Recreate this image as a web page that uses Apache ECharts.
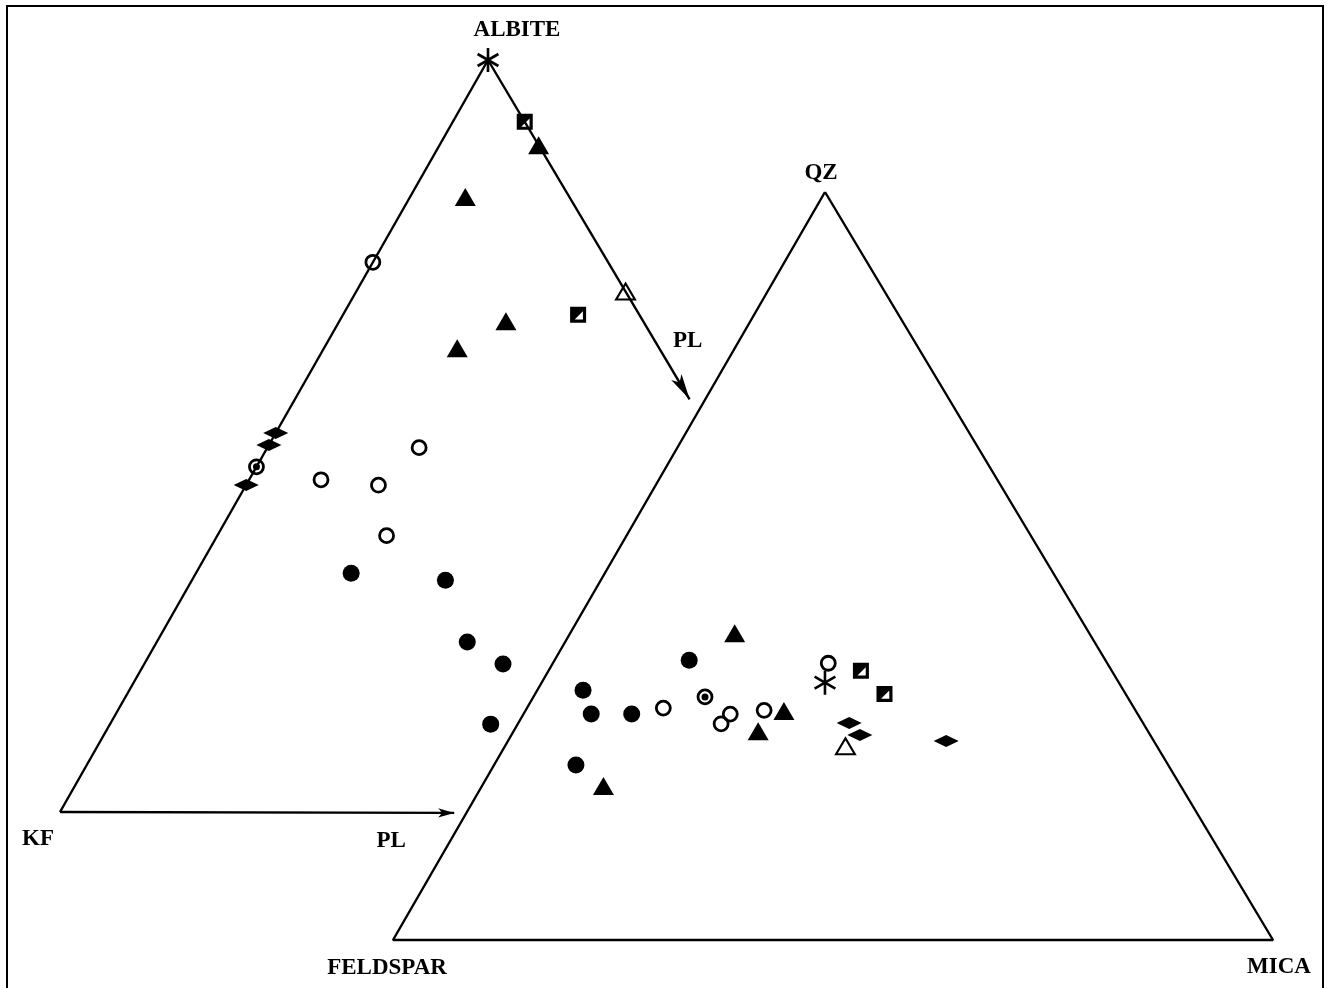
<!DOCTYPE html>
<html>
<head>
<meta charset="utf-8">
<script src="https://cdn.jsdelivr.net/npm/echarts@6/dist/echarts.min.js"></script>
<style>
html,body{margin:0;padding:0;background:#fff;}
#chart{width:1330px;height:988px;}
</style>
</head>
<body>
<div id="chart"></div>
<script>
// ---------- DATA (ternary compositions, %) ----------
// Left diagram: [ALBITE, KF, PL]
const leftAsterisk       = [[100, 0, 0]];
const leftHalfSquare     = [[91.8, 0, 8.2], [66.2, 7.0, 26.8]];
const leftFilledTriangle = [[88.7, 0, 11.3], [81.8, 11.9, 6.3], [65.3, 15.7, 19.0], [61.7, 23.1, 15.2]];
const leftOpenTriangle   = [[69.3, 0, 30.7]];
const leftOpenCircle     = [[73.1, 26.9, 0], [48.5, 34.2, 17.3], [44.2, 47.6, 8.2], [43.5, 41.4, 15.1], [36.8, 43.9, 19.3]];
const leftDotCircle      = [[45.9, 54.1, 0]];
const leftDiamond        = [[50.4, 49.6, 0], [48.8, 51.2, 0], [43.5, 56.5, 0]];
const leftFilledCircle   = [[31.8, 50.5, 17.7], [30.9, 40.2, 28.9], [22.7, 41.9, 35.4], [19.8, 39.3, 40.9], [11.8, 44.8, 43.4]];

// Right diagram: [QZ, FELDSPAR, MICA]
const rightAsterisk       = [[34.4, 33.4, 32.2]];
const rightHalfSquare     = [[36.0, 28.5, 35.5], [32.9, 27.4, 39.7]];
const rightFilledTriangle = [[41.0, 40.3, 18.7], [30.6, 40.0, 29.4], [27.9, 44.3, 27.8], [20.6, 65.6, 13.8]];
const rightOpenTriangle   = [[25.9, 35.4, 38.7]];
const rightOpenCircle     = [[37.0, 31.7, 31.3], [31.0, 53.5, 15.5], [30.2, 46.3, 23.5], [28.9, 48.0, 23.1], [30.7, 42.2, 27.1]];
const rightDotCircle      = [[32.5, 48.0, 19.5]];
const rightDiamond        = [[29.0, 33.4, 37.6], [27.4, 33.0, 39.6], [26.6, 23.6, 49.8]];
const rightFilledCircle   = [[37.4, 47.3, 15.3], [33.4, 61.4, 5.2], [30.2, 62.1, 7.7], [30.2, 57.5, 12.3], [23.4, 67.3, 9.3]];

// Arrow ends (partial PL edges of left diagram)
const arrowPL = 45;

// ---------- LAYOUT ----------
const LEFT  = {A: [488, 60],  B: [60, 812],  C: [936, 814]};   // Albite, KF, PL
const RIGHT = {A: [825, 192], B: [393, 940], C: [1273, 940]};  // QZ, Feldspar, Mica

function tern(tri, c) {
  const s = c[0] + c[1] + c[2];
  return [
    (c[0] * tri.A[0] + c[1] * tri.B[0] + c[2] * tri.C[0]) / s,
    (c[0] * tri.A[1] + c[1] * tri.B[1] + c[2] * tri.C[1]) / s
  ];
}
function both(l, r) {
  return l.map(c => tern(LEFT, c)).concat(r.map(c => tern(RIGHT, c)));
}

const asteriskPath = 'path://M10,0L10,20M1.34,5L18.66,15M1.34,15L18.66,5';
const halfSquarePath = 'path://M0,0L14,0L14,14L0,14ZM11.2,4L4,11.2L11.2,11.2Z';

const markerSeries = [
  {name: 'filledCircle', data: both(leftFilledCircle, rightFilledCircle), symbol: 'circle', symbolSize: 17,
   itemStyle: {color: '#000'}},
  {name: 'openCircle', data: both(leftOpenCircle, rightOpenCircle), symbol: 'circle', symbolSize: 14,
   itemStyle: {color: 'rgba(255,255,255,0)', borderColor: '#000', borderWidth: 2.8}},
  {name: 'dotCircleRing', data: both(leftDotCircle, rightDotCircle), symbol: 'circle', symbolSize: 14,
   itemStyle: {color: 'rgba(255,255,255,0)', borderColor: '#000', borderWidth: 2.8}},
  {name: 'dotCircleDot', data: both(leftDotCircle, rightDotCircle), symbol: 'circle', symbolSize: 7,
   itemStyle: {color: '#000'}, z: 4},
  {name: 'filledTriangle', data: both(leftFilledTriangle, rightFilledTriangle), symbol: 'triangle', symbolSize: [21, 18],
   itemStyle: {color: '#000'}},
  {name: 'openTriangle', data: both(leftOpenTriangle, rightOpenTriangle), symbol: 'triangle', symbolSize: [19, 16],
   itemStyle: {color: '#fff', borderColor: '#000', borderWidth: 2}},
  {name: 'halfSquare', data: both(leftHalfSquare, rightHalfSquare), symbol: halfSquarePath, symbolSize: 16,
   itemStyle: {color: '#000'}},
  {name: 'diamond', data: both(leftDiamond, rightDiamond), symbol: 'diamond', symbolSize: [25, 12],
   itemStyle: {color: '#000'}},
  {name: 'asterisk', data: both(leftAsterisk, rightAsterisk), symbol: asteriskPath, symbolSize: 24, symbolKeepAspect: true,
   itemStyle: {color: 'rgba(0,0,0,0)', borderColor: '#000', borderWidth: 2.6}}
].map(s => {
  s.itemStyle.opacity = 1;
  return Object.assign({type: 'scatter', z: 3, silent: true}, s);
});

const lineStyle = {color: '#000', width: 2.4, opacity: 1};
const font = {fontFamily: 'Liberation Serif', fontWeight: 'bold', fontSize: 23, color: '#000'};

const labelItems = [
  {name: 'ALBITE',   value: tern(LEFT, [100, 0, 0]),  label: {offset: [29, -30]}},
  {name: 'KF',       value: tern(LEFT, [0, 100, 0]),  label: {offset: [-22, 27]}},
  {name: 'PL',       value: tern(LEFT, [0, 100 - arrowPL, arrowPL]), label: {offset: [-63, 28]}},
  {name: 'PL',       value: tern(LEFT, [100 - arrowPL, 0, arrowPL]), label: {offset: [-2, -58]}},
  {name: 'QZ',       value: tern(RIGHT, [100, 0, 0]), label: {offset: [-4, -19]}},
  {name: 'FELDSPAR', value: tern(RIGHT, [0, 100, 0]), label: {offset: [-6, 28]}},
  {name: 'MICA',     value: tern(RIGHT, [0, 0, 100]), label: {offset: [6, 27]}}
];

const option = {
  animation: false,
  backgroundColor: '#fff',
  grid: {left: 0, right: 0, top: 0, bottom: 0},
  xAxis: {type: 'value', min: 0, max: 1330, show: false},
  yAxis: {type: 'value', min: 0, max: 988, inverse: true, show: false},
  graphic: [{type: 'rect', shape: {x: 7, y: 6, width: 1316, height: 1000},
             style: {fill: 'none', stroke: '#000', lineWidth: 2}, silent: true}],
  series: [
    {type: 'line', name: 'rightTriangle', z: 1, silent: true, symbol: 'none', lineStyle: lineStyle,
     data: [[100,0,0],[0,100,0],[0,0,100],[100,0,0]].map(c => tern(RIGHT, c))},
    {type: 'line', name: 'leftEdge', z: 1, silent: true, symbol: 'none', lineStyle: lineStyle,
     data: [[100,0,0],[0,100,0]].map(c => tern(LEFT, c))},
    {type: 'line', name: 'arrows', z: 1, silent: true, data: [],
     markLine: {silent: true, symbol: ['none', 'arrow'], precision: 4,
       label: {show: false}, lineStyle: {color: '#000', width: 2.4, type: 'solid', opacity: 1},
       itemStyle: {color: '#000', opacity: 1},
       emphasis: {disabled: true},
       data: [
         [{coord: tern(LEFT, [100, 0, 0])}, {coord: tern(LEFT, [100 - arrowPL, 0, arrowPL]), symbolSize: [9, 26]}],
         [{coord: tern(LEFT, [0, 100, 0])}, {coord: tern(LEFT, [0, 100 - arrowPL, arrowPL]), symbolSize: [7, 16]}]
       ]}},
    ...markerSeries,
    {type: 'scatter', name: 'labels', z: 5, silent: true, symbolSize: 1,
     itemStyle: {color: 'rgba(0,0,0,0)', opacity: 1},
     label: Object.assign({show: true, position: 'inside', formatter: '{b}', align: 'center', verticalAlign: 'middle'}, font),
     data: labelItems}
  ]
};

const chart = echarts.init(document.getElementById('chart'), null, {renderer: 'canvas'});
chart.setOption(option);
</script>
</body>
</html>
